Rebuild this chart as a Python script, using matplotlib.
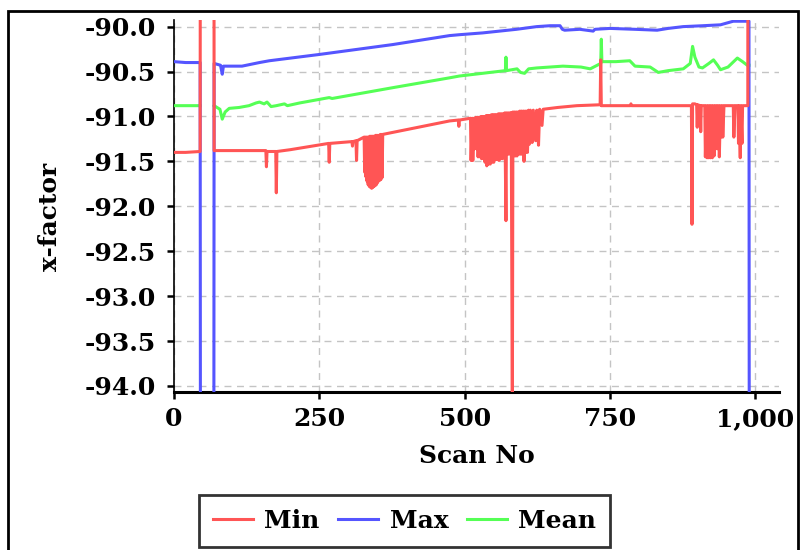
import numpy as np
import matplotlib
matplotlib.use("Agg")
import matplotlib.pyplot as plt
from matplotlib.ticker import FuncFormatter, MultipleLocator
from matplotlib.patches import Rectangle
from matplotlib.lines import Line2D

# ---------------- data ----------------
min_scan = [0, 20, 45, 46, 68, 69, 100, 150, 158, 159, 160, 175, 176, 177,
            200, 248, 266, 267, 268, 306, 307, 308, 313, 314, 315, 324,
            327, 328, 329, 330, 331, 332, 333, 334, 335, 336, 337, 338, 339, 340,
            341, 342, 343, 344, 345, 346, 347, 348, 349, 350, 351, 352, 353, 354,
            355, 356, 357, 358, 359,
            420, 474, 489, 490, 491,
            510, 511, 513, 514, 516, 517, 519, 520, 522, 523, 525, 526, 528, 529,
            531, 532, 534, 535, 537, 538, 540, 541, 543, 544, 546, 547, 549, 550,
            552, 553, 555, 556, 558, 559, 561, 562, 564, 565, 567, 568, 569, 571,
            572, 573, 575, 576, 578, 579, 580, 582, 583, 584, 586, 587, 589, 590,
            592, 593, 595, 596, 598, 599, 601, 602, 604, 605, 607, 608, 610, 611,
            613, 616, 618, 622, 624, 627, 629, 633, 635,
            660, 693, 733, 734, 735, 785, 786, 787,
            890, 891, 892, 896, 899, 900, 901, 905, 906, 907, 913, 914, 916, 917,
            919, 920, 922, 923, 925, 926, 928, 929, 931, 932, 934, 935, 937, 938,
            940, 941, 943, 944, 946, 962, 963, 965, 970, 971, 972, 974, 975, 977,
            978, 987, 988]
min_val = [-91.40, -91.40, -91.39, -80.0, -80.0, -91.38, -91.38, -91.38, -91.38, -91.56, -91.39, -91.39, -91.85, -91.39,
           -91.37, -91.32, -91.30, -91.51, -91.30, -91.28, -91.33, -91.28, -91.27, -91.49, -91.27, -91.24,
           -91.23, -91.62, -91.23, -91.67, -91.23, -91.72, -91.23, -91.76, -91.23, -91.78, -91.22, -91.79, -91.22, -91.80,
           -91.22, -91.79, -91.22, -91.78, -91.22, -91.77, -91.21, -91.76, -91.21, -91.74, -91.21, -91.72, -91.21, -91.71,
           -91.20, -91.70, -91.20, -91.68, -91.20,
           -91.12, -91.05, -91.04, -91.11, -91.04,
           -91.02, -91.49, -91.02, -91.49, -91.02, -91.36, -91.01, -91.36, -91.01, -91.45, -91.01, -91.45, -91.00, -91.47,
           -91.00, -91.47, -91.00, -91.51, -90.99, -91.55, -90.99, -91.53, -90.99, -91.53, -90.98, -91.51, -90.98, -91.51,
           -90.98, -91.48, -90.98, -91.48, -90.97, -91.49, -90.97, -91.47, -90.97, -91.47, -90.97, -91.45, -90.96, -92.16,
           -90.96, -91.42, -90.96, -91.42, -90.96, -91.40, -90.96, -94.30, -90.95, -91.44, -90.95, -91.44, -90.95, -91.44,
           -90.95, -91.42, -90.94, -91.42, -90.94, -91.42, -90.94, -91.50, -90.94, -91.40, -90.94, -91.40, -90.93, -91.31,
           -90.93, -91.29, -90.93, -91.27, -90.93, -91.32, -90.92, -91.10, -90.92,
           -90.90, -90.88, -90.87, -90.37, -90.88, -90.88, -90.86, -90.88,
           -90.88, -92.20, -90.86, -90.86, -90.87, -91.12, -90.87, -90.88, -91.17, -90.88, -90.88, -91.45, -90.88, -91.46,
           -90.88, -91.46, -90.88, -91.46, -90.88, -91.46, -90.88, -91.44, -90.88, -91.36, -90.88, -91.36, -90.88, -91.45,
           -90.88, -91.23, -90.88, -91.23, -90.88, -90.88, -91.23, -90.88, -90.88, -91.30, -90.88, -91.46, -90.88, -91.30,
           -90.88, -90.88, -80.0]

max_scan = [0, 20, 45, 46, 68, 69, 80, 83, 85, 117, 147, 164, 250, 376, 474, 491, 531,
            589, 624, 647, 664, 668, 672, 698, 721, 724, 750, 793, 831, 850, 876, 910,
            940, 962, 986, 989, 990]
max_val = [-90.39, -90.40, -90.40, -100.0, -100.0, -90.41, -90.43, -90.53, -90.44, -90.44, -90.40, -90.38,
           -90.31, -90.20, -90.10, -90.09, -90.07, -90.03, -90.00, -89.99, -89.99, -90.03, -90.04, -90.03,
           -90.05, -90.03, -90.02, -90.03, -90.04, -90.02, -90.00, -89.99, -89.98, -89.94, -89.94, -89.94, -100.0]

mean_scan = [0, 45, 46, 68, 69, 79, 83, 88, 95, 112, 129, 141, 147, 155, 160, 167, 176, 190, 195,
             216, 250, 267, 272, 376, 474, 491, 570, 571, 572, 590, 596, 603, 610, 624, 669,
             700, 716, 728, 734, 735, 736, 760, 784, 793, 819, 833, 850, 876, 888, 892, 896,
             903, 909, 920, 928, 935, 940, 953, 969, 978, 986, 989]
mean_val = [-90.88, -90.88, np.nan, np.nan, -90.88, -90.92, -91.03, -90.95, -90.91, -90.90, -90.88,
            -90.85, -90.84, -90.86, -90.84, -90.89, -90.88, -90.86, -90.88, -90.85, -90.81, -90.79,
            -90.80, -90.68, -90.57, -90.55, -90.49, -90.34, -90.49, -90.47, -90.51, -90.52, -90.47,
            -90.46, -90.44, -90.45, -90.47, -90.43, -90.41, -90.14, -90.39, -90.39, -90.38, -90.44,
            -90.45, -90.51, -90.49, -90.47, -90.41, -90.22, -90.34, -90.45, -90.46, -90.41, -90.37,
            -90.43, -90.48, -90.45, -90.35, -90.39, -90.43, -90.43]

series_names = ["Min", "Max", "Mean"]
x_ticks = [0, 250, 500, 750, 1000]

# ---------------- style ----------------
plt.rcParams["font.family"] = ["DejaVu Serif"]
plt.rcParams["font.weight"] = "bold"

RED, BLUE, GREEN = "#FF5555", "#5555FF", "#55FF55"
LW = 2.2

fig = plt.figure(figsize=(8, 5.5), dpi=100)
ax = fig.add_axes([0.2175, 0.2873, 0.7565, 0.6764])

ax.plot(mean_scan, mean_val, color=GREEN, lw=LW, zorder=3)
ax.plot(max_scan, max_val, color=BLUE, lw=LW, zorder=4)
ax.plot(min_scan, min_val, color=RED, lw=LW, zorder=5)

ax.set_xlim(0, 1041)
ax.set_ylim(-94.067, -89.926)
ax.set_xticks(x_ticks)
ax.yaxis.set_major_locator(MultipleLocator(0.5))
ax.xaxis.set_major_formatter(FuncFormatter(lambda v, p: f"{v:,.0f}"))
ax.yaxis.set_major_formatter(FuncFormatter(lambda v, p: f"{v:.1f}"))

ax.grid(True, color="#C4C4C4", linestyle=(0, (5, 4)), linewidth=1.0)
ax.set_axisbelow(True)

for s in ("top", "right"):
    ax.spines[s].set_visible(False)
ax.spines["left"].set_linewidth(1.2)
ax.spines["bottom"].set_linewidth(2.2)
ax.tick_params(axis="both", direction="out", length=5, width=1.8, labelsize=18, colors="black")
ax.tick_params(axis="y", pad=8)
ax.tick_params(axis="x", pad=6)

ax.set_xlabel("Scan No", fontsize=18, fontweight="bold")
ax.set_ylabel("x-factor", fontsize=18, fontweight="bold")
ax.xaxis.set_label_coords(0.5, -0.14)
ax.yaxis.set_label_coords(-0.185, 0.47)

handles = [Line2D([], [], color=c, lw=LW) for c in (RED, BLUE, GREEN)]
leg = fig.legend(handles, series_names, loc="center", bbox_to_anchor=(0.506, 0.053),
                 ncol=3, frameon=True, fancybox=False, edgecolor="black",
                 prop={"size": 18, "weight": "bold"}, handlelength=1.6,
                 handletextpad=0.45, columnspacing=0.75, borderpad=0.55,
                 borderaxespad=0)
leg.get_frame().set_linewidth(2)

fig.patches.append(Rectangle((0.010, -0.02), 0.9875, 1.0, transform=fig.transFigure,
                             fill=False, edgecolor="black", lw=2, clip_on=False))

fig.savefig("out.png", dpi=100)
